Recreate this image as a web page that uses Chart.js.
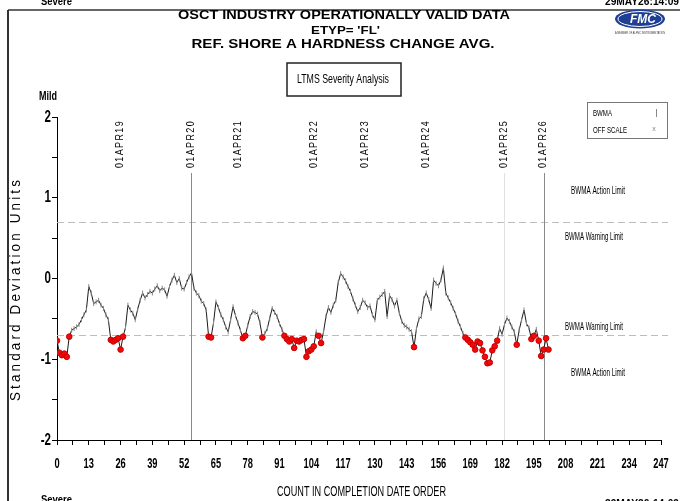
<!DOCTYPE html>
<html>
<head>
<meta charset="utf-8">
<script src="https://cdn.jsdelivr.net/npm/chart.js@4"></script>
<style>
  html, body { margin: 0; padding: 0; background: #fff; }
  #wrap { width: 680px; height: 501px; position: relative; }
</style>
</head>
<body>
<div id="wrap"><canvas id="ltmsChart"></canvas></div>
<script>
// BWMA in standard deviation units, one value per test in completion order
const bwma = [
  -0.77, -0.92, -0.95, -0.93, -0.97, -0.72, -0.64, -0.62, -0.60, -0.57,
  -0.51, -0.45, -0.39, -0.10, -0.18, -0.31, -0.29, -0.27, -0.33, -0.37,
  -0.45, -0.51, -0.76, -0.78, -0.76, -0.74, -0.88, -0.72, -0.61, -0.33,
  -0.39, -0.43, -0.51, -0.38, -0.27, -0.18, -0.24, -0.20, -0.16, -0.18,
  -0.13, -0.09, -0.15, -0.12, -0.14, -0.22, -0.10, -0.02, 0.04, -0.05,
  0.00, -0.12, -0.13, -0.05, 0.02, 0.07, -0.12, -0.18, -0.21, -0.28,
  -0.31, -0.39, -0.72, -0.73, -0.55, -0.29, -0.36, -0.45, -0.51, -0.60,
  -0.66, -0.51, -0.35, -0.46, -0.55, -0.64, -0.74, -0.71, -0.58, -0.47,
  -0.41, -0.42, -0.44, -0.55, -0.73, -0.68, -0.62, -0.49, -0.37, -0.42,
  -0.47, -0.56, -0.63, -0.71, -0.75, -0.78, -0.75, -0.86, -0.77, -0.78,
  -0.76, -0.75, -0.97, -0.90, -0.88, -0.84, -0.66, -0.71, -0.80, -0.66,
  -0.47, -0.36, -0.42, -0.33, -0.27, -0.05, 0.06, 0.02, -0.03, -0.10,
  -0.16, -0.25, -0.33, -0.41, -0.36, -0.27, -0.30, -0.36, -0.34, -0.45,
  -0.51, -0.27, -0.23, -0.20, -0.16, -0.47, -0.21, -0.26, -0.34, -0.27,
  -0.43, -0.53, -0.58, -0.60, -0.63, -0.66, -0.85, -0.62, -0.50, -0.47,
  -0.25, -0.18, -0.26, -0.37, -0.02, -0.06, -0.09, -0.02, 0.13, -0.18,
  -0.24, -0.30, -0.37, -0.44, -0.53, -0.60, -0.68, -0.73, -0.76, -0.79,
  -0.82, -0.88, -0.78, -0.80, -0.89, -0.97, -1.05, -1.04, -0.89, -0.84,
  -0.77, -0.62, -0.69, -0.57, -0.49, -0.53, -0.60, -0.66, -0.82, -0.64,
  -0.51, -0.39, -0.56, -0.61, -0.75, -0.71, -0.63, -0.77, -0.96, -0.88,
  -0.74, -0.88
];

const warningLimits = [0.7, -0.7];
const dateLabels = ['01APR19', '01APR20', '01APR21', '01APR22', '01APR23', '01APR24', '01APR25', '01APR26'];
const dateCounts = [26, 55, 74, 105, 126, 151, 183, 199];
const solidDateLines = ['01APR20', '01APR26'];
const faintDateLines = ['01APR25'];

const sans = '"Liberation Sans", Arial, sans-serif';

function belowLimit(v) { return v < warningLimits[1]; }

// draw text squeezed/stretched horizontally to a given width
function fitText(ctx, text, cx, cy, width, font, align) {
  ctx.font = font;
  const sx = width / ctx.measureText(text).width;
  ctx.save();
  ctx.translate(cx, cy);
  ctx.scale(sx, 1);
  ctx.textAlign = align || 'center';
  ctx.fillText(text, 0, 0);
  ctx.restore();
}

function squeezeText(ctx, text, x, y, sx, font, align) {
  ctx.font = font;
  ctx.save();
  ctx.translate(x, y);
  ctx.scale(sx, 1);
  ctx.textAlign = align;
  ctx.fillText(text, 0, 0);
  ctx.restore();
}

const overlay = {
  id: 'overlay',
  beforeDatasetsDraw(chart) {
    const { ctx, chartArea: a, scales: { x, y } } = chart;
    ctx.save();
    // warning limit dashes
    ctx.strokeStyle = '#bdbdbd';
    ctx.lineWidth = 1;
    ctx.setLineDash([7, 4]);
    warningLimits.forEach(v => {
      const py = Math.round(y.getPixelForValue(v)) + 0.5;
      ctx.beginPath(); ctx.moveTo(a.left, py); ctx.lineTo(668, py); ctx.stroke();
    });
    ctx.setLineDash([]);
    // date lines
    dateLabels.forEach((lab, i) => {
      let col = null;
      if (solidDateLines.includes(lab)) col = '#8a8a8a';
      if (faintDateLines.includes(lab)) col = '#e0e0e0';
      if (!col) return;
      const px = Math.round(x.getPixelForValue(dateCounts[i])) + 0.5;
      ctx.strokeStyle = col;
      ctx.beginPath(); ctx.moveTo(px, 173); ctx.lineTo(px, a.bottom); ctx.stroke();
    });
    ctx.restore();
  },
  afterDraw(chart) {
    const { ctx, scales: { x, y } } = chart;
    ctx.save();
    ctx.fillStyle = '#000';
    ctx.textBaseline = 'middle';

    // tick labels, narrow like the original plot
    x.ticks.forEach((t, i) => {
      if (t.label === '') return;
      squeezeText(ctx, String(t.label), x.getPixelForTick(i), 464, 0.62, 'bold 15px ' + sans, 'center');
    });
    y.ticks.forEach((t, i) => {
      if (t.label === '') return;
      squeezeText(ctx, String(t.label), 51, y.getPixelForTick(i), 0.68, 'bold 17px ' + sans, 'right');
    });

    // x axis title
    fitText(ctx, 'COUNT IN COMPLETION DATE ORDER', 361.5, 492, 169, '15px ' + sans);

    // page frame
    ctx.strokeStyle = '#333';
    ctx.lineWidth = 2;
    ctx.beginPath(); ctx.moveTo(8, 10); ctx.lineTo(8, 501); ctx.stroke();
    ctx.lineWidth = 1.5;
    ctx.beginPath(); ctx.moveTo(8, 10); ctx.lineTo(680, 10); ctx.stroke();

    // corner stamps
    ctx.textBaseline = 'alphabetic';
    fitText(ctx, 'Severe', 41, 5, 31, 'bold 11px ' + sans, 'left');
    fitText(ctx, 'Severe', 41, 503, 31, 'bold 11px ' + sans, 'left');
    fitText(ctx, '29MAY26:14:09', 679, 5, 74, 'bold 10px ' + sans, 'right');
    fitText(ctx, '29MAY26:14:09', 679, 507, 74, 'bold 10px ' + sans, 'right');

    // titles
    ctx.textBaseline = 'middle';
    fitText(ctx, 'OSCT INDUSTRY OPERATIONALLY VALID DATA', 344, 16, 332, 'bold 12.5px ' + sans);
    fitText(ctx, "ETYP= 'FL'", 345.5, 31, 69, 'bold 11px ' + sans);
    fitText(ctx, 'REF. SHORE A HARDNESS CHANGE AVG.', 343, 45, 303, 'bold 12.5px ' + sans);

    // logo
    ctx.fillStyle = '#1f3f94';
    ctx.beginPath(); ctx.ellipse(640, 19, 25, 9.5, 0, 0, Math.PI * 2); ctx.fill();
    ctx.strokeStyle = '#fff'; ctx.lineWidth = 1;
    ctx.beginPath(); ctx.ellipse(640, 19, 22, 7.5, 0, 0, Math.PI * 2); ctx.stroke();
    ctx.fillStyle = '#fff';
    ctx.font = 'italic bold 12px ' + sans;
    ctx.textAlign = 'center';
    ctx.fillText('FMC', 643, 20);
    ctx.fillStyle = '#333';
    fitText(ctx, 'A MEMBER OF ALFMC INSTRUMENTATION', 640, 33, 50, '4px ' + sans);

    // severity analysis box
    ctx.fillStyle = '#000';
    ctx.strokeStyle = '#222'; ctx.lineWidth = 1.5;
    ctx.strokeRect(287, 63, 114, 33);
    fitText(ctx, 'LTMS Severity Analysis', 343, 79.5, 92, '12px ' + sans);

    // legend box
    ctx.strokeStyle = '#777'; ctx.lineWidth = 1;
    ctx.strokeRect(587.5, 102.5, 80, 36);
    fitText(ctx, 'BWMA', 593, 114, 19, '9px ' + sans, 'left');
    fitText(ctx, 'OFF SCALE', 593, 131, 34, '9px ' + sans, 'left');
    ctx.strokeStyle = '#888';
    ctx.beginPath(); ctx.moveTo(656.5, 109); ctx.lineTo(656.5, 117); ctx.stroke();
    ctx.fillStyle = '#888';
    ctx.font = '7px ' + sans;
    ctx.textAlign = 'center';
    ctx.fillText('x', 654, 129);

    // limit captions
    ctx.fillStyle = '#000';
    fitText(ctx, 'BWMA Action Limit', 598, 191, 54, '10px ' + sans);
    fitText(ctx, 'BWMA Warning Limit', 594, 237, 58, '10px ' + sans);
    fitText(ctx, 'BWMA Warning Limit', 594, 327, 58, '10px ' + sans);
    fitText(ctx, 'BWMA Action Limit', 598, 373, 54, '10px ' + sans);

    // Mild label
    fitText(ctx, 'Mild', 48, 97, 18, 'bold 12px ' + sans);

    // rotated date markers
    ctx.letterSpacing = '1.5px';
    dateLabels.forEach((lab, i) => {
      const px = x.getPixelForValue(dateCounts[i]);
      ctx.save();
      ctx.translate(px, 168);
      ctx.rotate(-Math.PI / 2);
      fitText(ctx, lab, 0, 0, 48, '10px ' + sans, 'left');
      ctx.restore();
    });

    // y axis title
    ctx.letterSpacing = '3.5px';
    ctx.save();
    ctx.translate(16, 289);
    ctx.rotate(-Math.PI / 2);
    fitText(ctx, 'Standard Deviation Units', 0, 0, 224, '15px ' + sans);
    ctx.restore();
    ctx.letterSpacing = '0px';

    ctx.restore();
  }
};

const ctx = document.getElementById('ltmsChart').getContext('2d');
const chart = new Chart(ctx, {
  type: 'line',
  data: {
    datasets: [{
      label: 'BWMA',
      data: bwma.map((v, i) => ({ x: i, y: v })),
      borderColor: '#1a1a1a',
      borderWidth: 1,
      fill: false,
      tension: 0,
      pointStyle: c => belowLimit(c.raw.y) ? 'circle' : 'line',
      pointRotation: 90,
      pointRadius: c => belowLimit(c.raw.y) ? 2.8 : 2.5,
      pointBackgroundColor: c => belowLimit(c.raw.y) ? 'rgb(240,10,10)' : '#777',
      pointBorderColor: c => belowLimit(c.raw.y) ? 'rgb(200,0,0)' : '#888',
      pointBorderWidth: 1
    }]
  },
  options: {
    responsive: true,
    maintainAspectRatio: false,
    animation: false,
    layout: { padding: { left: 0, right: 19, top: 117, bottom: 0 } },
    plugins: {
      legend: { display: false },
      tooltip: { enabled: false }
    },
    scales: {
      x: {
        type: 'linear',
        min: 0,
        max: 247,
        afterFit: s => { s.height = 61; },
        ticks: {
          display: false,
          stepSize: 6.5,
          autoSkip: false,
          callback: v => (v % 13 === 0 ? v : '')
        },
        grid: { drawOnChartArea: false, color: '#000', tickLength: 5 },
        border: { color: '#000', width: 1 }
      },
      y: {
        min: -2,
        max: 2,
        afterFit: s => { s.width = 57; },
        ticks: {
          display: false,
          stepSize: 0.5,
          callback: v => (Number.isInteger(v) ? v : '')
        },
        grid: { drawOnChartArea: false, color: '#000', tickLength: 5 },
        border: { color: '#000', width: 1 }
      }
    }
  },
  plugins: [overlay]
});
</script>
</body>
</html>
